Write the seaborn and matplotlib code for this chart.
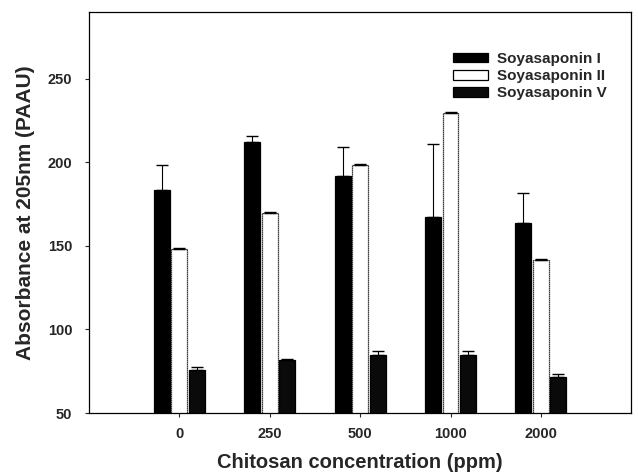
import numpy as np
import pandas as pd
import matplotlib as mpl
mpl.use('Agg')
import matplotlib.pyplot as plt
import seaborn as sns

# values
concentrations = ['0', '250', '500', '1000', '2000']
series_names = ['Soyasaponin I', 'Soyasaponin II', 'Soyasaponin V']
soya_I = [183.5, 212.5, 192.0, 167.5, 164.0]
soya_I_err = [15.0, 3.5, 17.5, 43.5, 18.0]
soya_II = [148.0, 170.0, 198.5, 229.5, 141.5]
soya_II_err = [0.6, 0.6, 0.6, 0.6, 0.6]
soya_V = [76.0, 82.0, 84.7, 85.0, 71.7]
soya_V_err = [1.8, 0.5, 2.3, 2.0, 1.5]

sns.set_style('ticks')
plt.rcParams['font.family'] = ['Liberation Sans', 'DejaVu Sans']
plt.rcParams['font.weight'] = 'bold'
plt.rcParams['axes.labelweight'] = 'bold'

df = pd.DataFrame({
    'conc': concentrations * 3,
    'series': np.repeat(series_names, len(concentrations)),
    'value': soya_I + soya_II + soya_V,
    'err': soya_I_err + soya_II_err + soya_V_err,
})

fig = plt.figure(figsize=(6.38, 4.75), dpi=100)
ax = fig.add_axes([0.1395, 0.1305, 0.85, 0.844])

palette = {'Soyasaponin I': 'black', 'Soyasaponin II': 'white', 'Soyasaponin V': '#0a0a0a'}
sns.barplot(data=df, x='conc', y='value', hue='series', order=concentrations,
            hue_order=series_names, palette=palette, width=0.58, gap=0.09,
            errorbar=None, edgecolor='black', linewidth=0.9, ax=ax)

# one-sided (upward) error bars on top of each bar
for container, name in zip(ax.containers, series_names):
    sub = df[df['series'] == name]
    xs = [p.get_x() + p.get_width() / 2 for p in container.patches]
    ax.errorbar(xs, sub['value'].values, yerr=[np.zeros(len(sub)), sub['err'].values],
                fmt='none', ecolor='black', elinewidth=0.8, capsize=4, capthick=1.0)

for p in ax.containers[1].patches:
    p.set_linestyle((0, (1, 0.6)))

ax.set_xlim(-1, 5)
ax.set_ylim(50, 290)
ax.set_yticks([50, 100, 150, 200, 250])
ax.tick_params(axis='both', direction='out', length=3, width=0.8, labelsize=10.5)
for lab in ax.get_xticklabels() + ax.get_yticklabels():
    lab.set_fontweight('bold')
ax.tick_params(axis='x', pad=7)
ax.tick_params(axis='y', pad=9)

for s in ax.spines.values():
    s.set_visible(True)
    s.set_linewidth(0.9)
    s.set_color('black')

ax.set_xlabel('Chitosan concentration (ppm)', fontsize=14.5, fontweight='bold', labelpad=9)
ax.set_ylabel('Absorbance at 205nm (PAAU)', fontsize=15, fontweight='bold', labelpad=9)

leg = ax.legend(loc='upper left', bbox_to_anchor=(0.66, 0.915), frameon=False,
                fontsize=11, handlelength=2.3, handleheight=0.55, labelspacing=0.2,
                handletextpad=0.55, borderaxespad=0)
for t in leg.get_texts():
    t.set_fontweight('bold')

fig.savefig('out.png', dpi=100)
